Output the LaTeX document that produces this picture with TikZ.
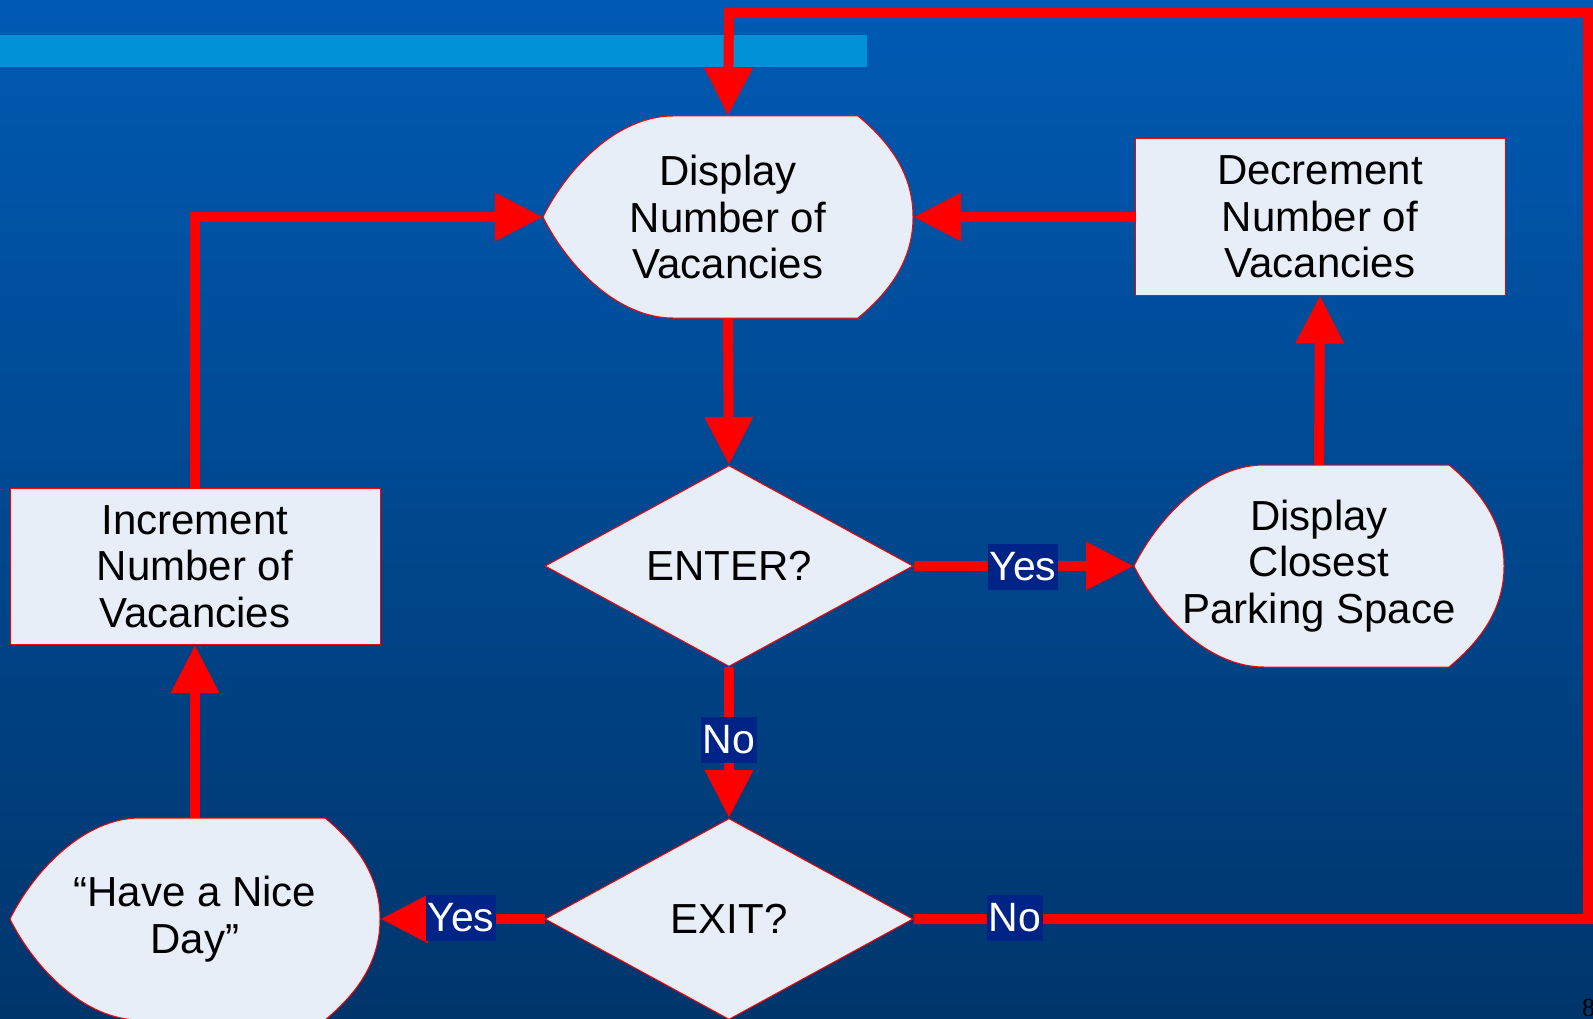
\documentclass[tikz,border=0pt]{standalone}
\usepackage{fontspec}
\setmainfont{Liberation Sans}
\newfontfamily\pgnumfont{Liberation Serif}
\usetikzlibrary{arrows.meta,shapes.geometric}
\definecolor{bgtop}{RGB}{0,90,179}
\definecolor{bgbot}{RGB}{0,53,107}
\definecolor{barblue}{RGB}{0,145,215}
\definecolor{shapefill}{RGB}{232,238,248}
\definecolor{lblbg}{RGB}{0,35,135}
\definecolor{linkred}{RGB}{255,0,0}
\tikzset{
  shp/.style={draw=linkred, line width=1pt, fill=shapefill},
  txt/.style={inner sep=0pt, align=center, text=black, font=\fontsize{42}{46.7}\selectfont},
  boxnode/.style={txt, shp, rectangle, minimum width=370pt, minimum height=156pt},
  dianode/.style={txt, shp, diamond, aspect=1.83, minimum width=368pt, minimum height=201pt},
  link/.style={draw=linkred, line width=10pt, -{Triangle[length=48pt,width=46pt]}},
  lbl/.style={fill=lblbg, text=white, inner xsep=2pt, inner ysep=0pt, minimum height=46pt,
    font=\fontsize{41}{46}\selectfont}
}
\newcommand\dispnode[4]{%
  \draw[shp] ({#2-185},{#3}) .. controls ({#2-160},{#3-50}) and ({#2-110},{#3-101}) .. ({#2-55},{#3-101})
    -- ({#2+130},{#3-101}) .. controls ({#2+165},{#3-72}) and ({#2+185},{#3-40}) .. ({#2+185},{#3})
    .. controls ({#2+185},{#3+40}) and ({#2+165},{#3+72}) .. ({#2+130},{#3+101})
    -- ({#2-55},{#3+101}) .. controls ({#2-110},{#3+101}) and ({#2-160},{#3+50}) .. cycle;
  \node[txt, minimum width=370pt, minimum height=202pt] (#1) at (#2,#3) {#4};}
\begin{document}
\begin{tikzpicture}[x=1pt, y=-1pt]
\useasboundingbox (0,0) rectangle (1593,1019);
% background
\shade[top color=bgtop, bottom color=bgbot] (0,0) rectangle (1593,1019);
\fill[barblue] (0,35) rectangle (867,67);
% nodes
\dispnode{disp}{728}{217}{Display\\Number of\\Vacancies}
\node[boxnode] (dec) at (1320,217) {Decrement\\Number of\\Vacancies};
\node[dianode] (enter) at (729,566) {ENTER?};
\dispnode{closest}{1319}{566}{Display\\Closest\\Parking Space}
\node[boxnode] (inc) at (195,566.5) {Increment\\Number of\\Vacancies};
\node[dianode] (exit) at (729,919) {EXIT?};
\dispnode{nice}{195}{919}{“Have a Nice\\Day”}
\coordinate (loopA) at (1588,919);
\coordinate (loopB) at (1588,13);
\coordinate (loopC) at (729,13);
\coordinate (incUp) at (195,217);
% connectors
\draw[link] (disp.south) -- (enter.north);
\draw[link] (enter.east) -- (closest.west);
\draw[link] (closest.north) -- (dec.south);
\draw[link] (dec.west) -- (disp.east);
\draw[link] (enter.south) -- (exit.north);
\draw[link] (exit.west) -- (nice.east);
\draw[link] (nice.north) -- (inc.south);
\draw[link] (inc.north) -- (incUp) -- (disp.west);
\draw[link] (exit.east) -- (loopA) -- (loopB) -- (loopC) -- (disp.north);
% labels
\node[lbl] (yes1) at (1023,567) {Yes};
\node[lbl] (no1) at (729,740) {No};
\node[lbl] (yes2) at (461,918) {Yes};
\node[lbl] (no2) at (1015,918) {No};
% page number
\node[anchor=north west, inner sep=0pt, text=black, font=\pgnumfont\fontsize{26}{28}\selectfont] (pgnum) at (1582,999) {8};
\end{tikzpicture}
\end{document}
